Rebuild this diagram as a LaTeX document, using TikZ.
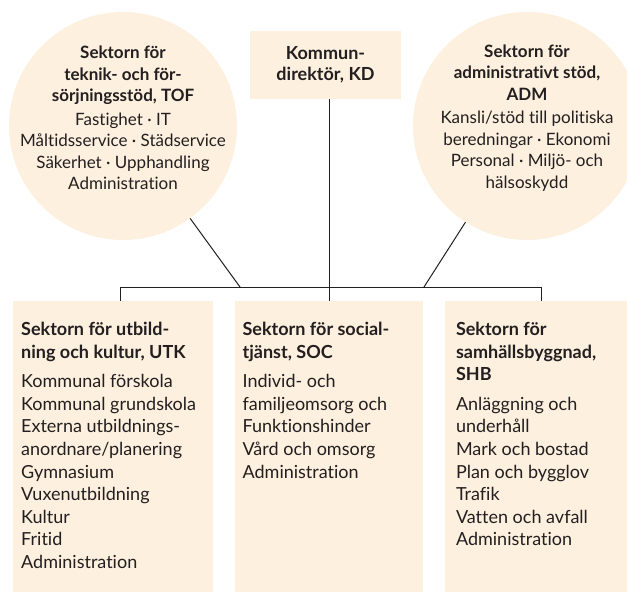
\documentclass[tikz,border=0pt]{standalone}
\usepackage{fontspec}
\setmainfont{Lato}[Ligatures=NoCommon]
\usetikzlibrary{positioning}
\definecolor{cream}{RGB}{253,240,222}
\definecolor{ink}{RGB}{35,31,32}

\begin{document}
\begin{tikzpicture}[x=1pt,y=-1pt,
            sector circle/.style={circle,fill=cream,minimum size=228pt,inner sep=0pt},
            sector box/.style={rectangle,fill=cream,anchor=north west,inner sep=0pt},
            circle text/.style={align=center,text=ink,font=\fontsize{17}{21.5}\selectfont},
            box text/.style={align=left,text=ink,inner sep=0pt,font=\fontsize{18}{22.6}\selectfont},
            link/.style={draw=ink,line width=1pt}]
            \useasboundingbox (0,0) rectangle (627,592);
            \clip (0,0) rectangle (627,592);
            % top row
            \node[sector circle] (tof) at (123,126) {};
            \node[sector circle] (adm) at (527,126) {};
            \node[rectangle,fill=cream,minimum width=151pt,minimum height=68pt,align=center,
                text=ink,font=\fontsize{18}{21.5}\selectfont\bfseries] (kd) at (325.5,65) {Kommun-\\direktör, KD};
            \node[circle text] (toft) at ([yshift=8pt]tof.center) {\textbf{Sektorn för}\\\textbf{teknik- och för-}\\\textbf{sörjningsstöd, TOF}\\[2pt]
                Fastighet · IT\\Måltidsservice · Städservice\\Säkerhet · Upphandling\\Administration};
            \node[circle text] (admt) at ([yshift=8pt]adm.center) {\textbf{Sektorn för}\\\textbf{administrativt stöd,}\\\textbf{ADM}\\[2pt]
                Kansli/stöd till politiska\\beredningar · Ekonomi\\Personal · Miljö- och\\hälsoskydd};
            % bottom row
            \node[sector box,minimum width=200pt,minimum height=291pt] (utk) at (13,301) {};
            \node[sector box,minimum width=188pt,minimum height=291pt,right=21pt of utk] (soc) {};
            \node[sector box,minimum width=200pt,minimum height=291pt,right=22pt of soc] (shb) {};
            \node[box text,below right=21pt and 8pt of utk.north west] (utkt) {\textbf{Sektorn för utbild-}\\\textbf{ning och kultur, UTK}\\[7pt]
                Kommunal förskola\\Kommunal grundskola\\Externa utbildnings-\\anordnare/planering\\Gymnasium\\Vuxenutbildning\\Kultur\\Fritid\\Administration};
            \node[box text,below right=21pt and 8pt of soc.north west] (soct) {\textbf{Sektorn för social-}\\\textbf{tjänst, SOC}\\[7pt]
                Individ- och\\familjeomsorg och\\Funktionshinder\\Vård och omsorg\\Administration};
            \node[box text,below right=21pt and 11pt of shb.north west] (shbt) {\textbf{Sektorn för}\\\textbf{samhällsbyggnad,}\\\textbf{SHB}\\[7pt]
                Anläggning och\\underhåll\\Mark och bostad\\Plan och bygglov\\Trafik\\Vatten och avfall\\Administration};
            % connectors
            \coordinate (bus mid) at (329,287);
            \coordinate (bus left) at (120,287);
            \coordinate (bus right) at (541,287);
            \coordinate (tof foot) at (240,287);
            \coordinate (adm foot) at (424,287);
            \path[link]
            (kd.south -| bus mid) edge (bus mid)
            (bus left) edge (bus right)
            (bus left) edge (bus left |- utk.north)
            (bus mid) edge (bus mid |- soc.north)
            (bus right) edge (bus right |- shb.north)
            (tof) edge (tof foot)
            (adm) edge (adm foot)
            ;
        \end{tikzpicture}
\end{document}
